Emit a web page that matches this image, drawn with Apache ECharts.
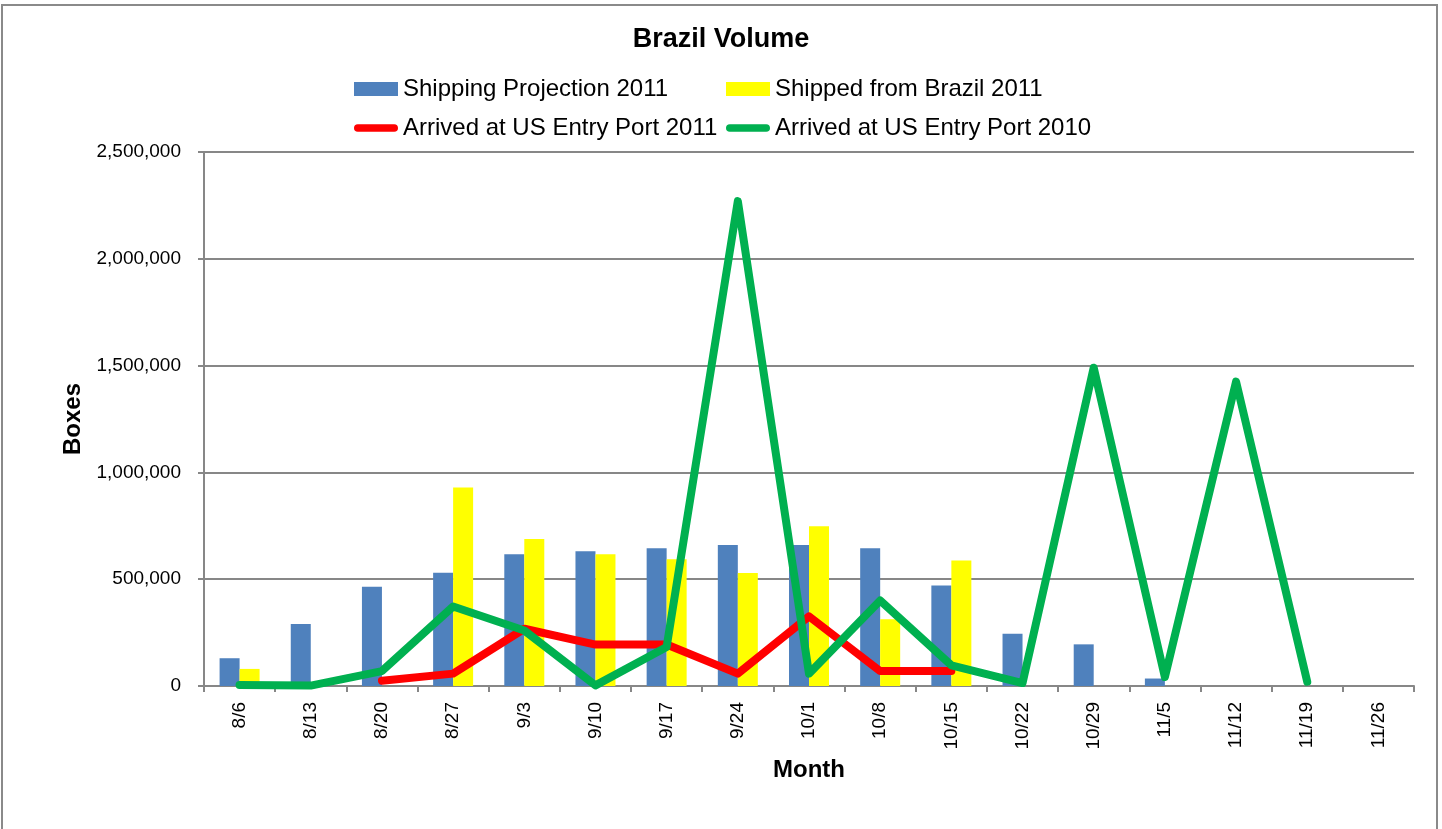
<!DOCTYPE html>
<html>
<head>
<meta charset="utf-8">
<title>Brazil Volume</title>
<script src="https://cdn.jsdelivr.net/npm/echarts@6/dist/echarts.min.js"></script>
<style>
  html, body { margin: 0; padding: 0; background: #ffffff; }
  #chart { width: 1442px; height: 829px; }
</style>
</head>
<body>
<div id="chart"></div>
<script>
// Weekly categories (week starting)
const weeks = ['8/6', '8/13', '8/20', '8/27', '9/3', '9/10', '9/17', '9/24', '10/1', '10/8',
               '10/15', '10/22', '10/29', '11/5', '11/12', '11/19', '11/26'];

// Boxes per week
const shippingProjection2011 = [130000, 290000, 465000, 530000, 617000, 631000, 645000, 660000, 660000,
                                645000, 471000, 245000, 195000, 35000, null, null, null];
const shippedFromBrazil2011 = [80000, null, null, 929000, 688000, 617000, 593000, 529000, 748000,
                               312000, 588000, null, null, null, null, null, null];
const arrivedUS2011 = [null, null, 25000, 58000, 268000, 194000, 194000, 58000, 326000,
                       70000, 70000, null, null, null, null, null, null];
const arrivedUS2010 = [5000, 2000, 70000, 372000, 260000, 3000, 183000, 2270000, 58000,
                       400000, 97000, 14000, 1490000, 42000, 1425000, 20000, null];

// Y axis ticks
const yTicks = { min: 0, max: 2500000, interval: 500000 };

const FONT = '"Liberation Sans", Arial, sans-serif';
const GRID_GRAY = '#878787';
const lineIcon = 'path://M4,0 L42,0 A4,4 0 0 1 42,8 L4,8 A4,4 0 0 1 4,0 Z';

const chart = echarts.init(document.getElementById('chart'), null, { renderer: 'canvas' });

const legendText = { fontFamily: FONT, fontSize: 24, color: '#000', lineHeight: 24 };

chart.setOption({
  animation: false,
  backgroundColor: '#ffffff',
  textStyle: { fontFamily: FONT },
  title: {
    text: 'Brazil Volume',
    left: 'center',
    top: 26,
    padding: 0,
    textStyle: { fontFamily: FONT, fontSize: 27, fontWeight: 'bold', color: '#000' }
  },
  legend: [
    {
      orient: 'vertical',
      left: 354,
      top: 77,
      padding: 0,
      itemGap: 15,
      itemWidth: 44,
      itemHeight: 14,
      textStyle: legendText,
      data: [
        { name: 'Shipping Projection 2011', icon: 'rect' },
        { name: 'Arrived at US Entry Port 2011', icon: lineIcon }
      ]
    },
    {
      orient: 'vertical',
      left: 726,
      top: 77,
      padding: 0,
      itemGap: 15,
      itemWidth: 44,
      itemHeight: 14,
      textStyle: legendText,
      data: [
        { name: 'Shipped from Brazil 2011', icon: 'rect' },
        { name: 'Arrived at US Entry Port 2010', icon: lineIcon }
      ]
    }
  ],
  grid: {
    left: 204,
    right: 28,
    top: 152,
    bottom: 143,
    containLabel: false,
    outerBoundsMode: 'none'
  },
  xAxis: {
    type: 'category',
    data: weeks,
    boundaryGap: true,
    name: 'Month',
    nameLocation: 'middle',
    nameGap: 72,
    nameTextStyle: { fontFamily: FONT, fontSize: 24, fontWeight: 'bold', color: '#000' },
    axisLine: { lineStyle: { color: GRID_GRAY, width: 2 } },
    axisTick: { show: true, alignWithLabel: false, length: 6, lineStyle: { color: GRID_GRAY, width: 2 } },
    axisLabel: { rotate: 90, margin: 16, interval: 0, fontFamily: FONT, fontSize: 19, color: '#000' },
    splitLine: { show: false }
  },
  yAxis: {
    type: 'value',
    min: yTicks.min,
    max: yTicks.max,
    interval: yTicks.interval,
    name: 'Boxes',
    nameLocation: 'middle',
    nameRotate: 90,
    nameGap: 117,
    nameTextStyle: { fontFamily: FONT, fontSize: 24, fontWeight: 'bold', color: '#000' },
    axisLine: { show: true, lineStyle: { color: GRID_GRAY, width: 2 } },
    axisTick: { show: true, length: 6, lineStyle: { color: GRID_GRAY, width: 2 } },
    axisLabel: {
      margin: 23,
      fontFamily: FONT,
      fontSize: 19,
      color: '#000',
      formatter: v => v.toLocaleString('en-US')
    },
    splitLine: { show: true, lineStyle: { color: GRID_GRAY, width: 2 } }
  },
  series: [
    {
      name: 'Shipping Projection 2011',
      type: 'bar',
      data: shippingProjection2011,
      barWidth: 20,
      barGap: '0%',
      itemStyle: { color: '#4F81BD' },
      z: 2
    },
    {
      name: 'Shipped from Brazil 2011',
      type: 'bar',
      data: shippedFromBrazil2011,
      barWidth: 20,
      barGap: '0%',
      itemStyle: { color: '#FFFF00' },
      z: 2
    },
    {
      name: 'Arrived at US Entry Port 2011',
      type: 'line',
      data: arrivedUS2011,
      symbol: 'none',
      connectNulls: false,
      itemStyle: { color: '#FF0000' },
      lineStyle: { color: '#FF0000', width: 8, cap: 'round', join: 'round' },
      z: 3
    },
    {
      name: 'Arrived at US Entry Port 2010',
      type: 'line',
      data: arrivedUS2010,
      symbol: 'none',
      connectNulls: false,
      itemStyle: { color: '#00B050' },
      lineStyle: { color: '#00B050', width: 8, cap: 'round', join: 'round' },
      z: 4
    }
  ],
  graphic: [
    {
      type: 'rect',
      silent: true,
      shape: { x: 2, y: 5, width: 1435, height: 840 },
      style: { fill: null, stroke: '#8a8a8a', lineWidth: 2 },
      z: -1
    }
  ]
});
</script>
</body>
</html>
